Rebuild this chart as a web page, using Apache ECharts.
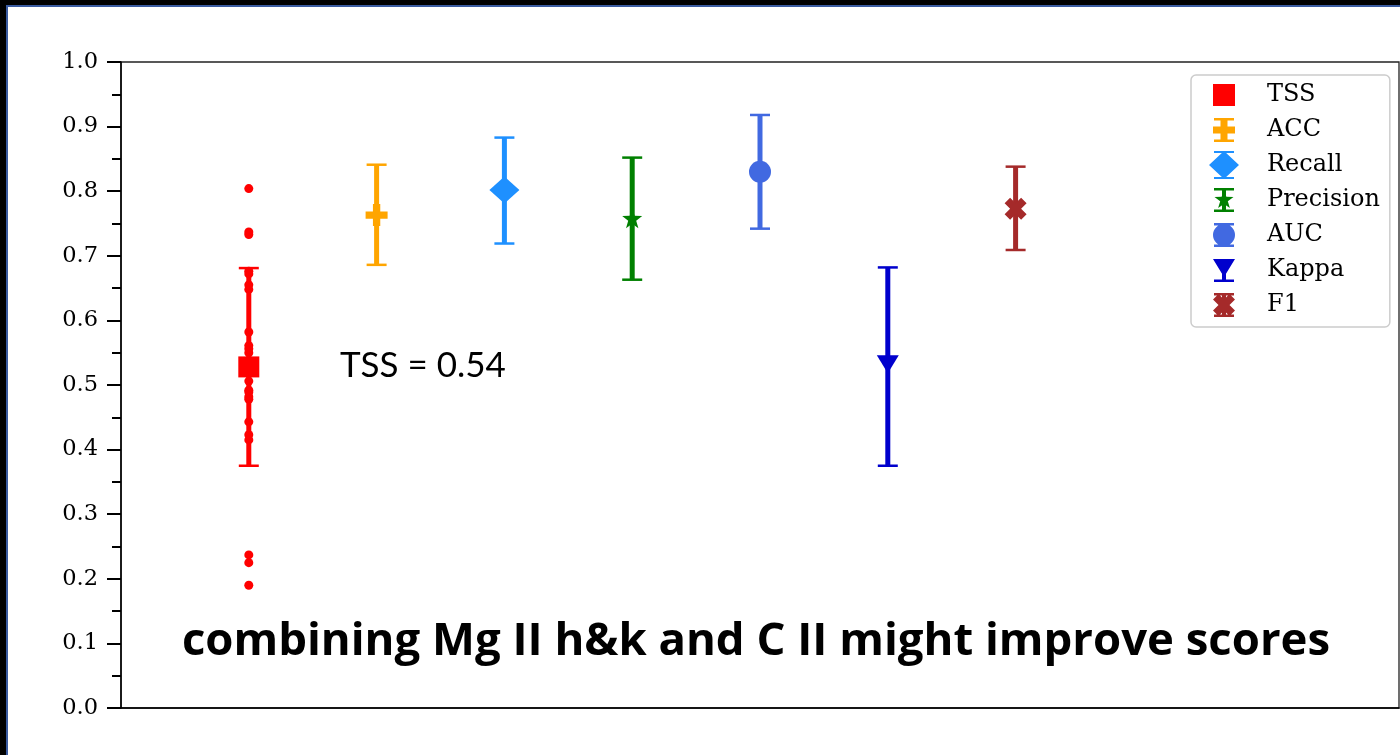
<!DOCTYPE html>
<html>
<head>
<meta charset="utf-8">
<script src="https://cdn.jsdelivr.net/npm/echarts@6/dist/echarts.min.js"></script>
<style>
  html, body { margin: 0; padding: 0; background: #ffffff; }
  #wrap { position: relative; width: 1400px; height: 755px; overflow: hidden; background: #ffffff; }
  #chart { position: absolute; left: 0; top: 0; width: 1400px; height: 755px; }
  .fr { position: absolute; pointer-events: none; }
</style>
</head>
<body>
<div id="wrap">
  <div id="chart"></div>
  <div class="fr" style="left:0;top:0;width:1400px;height:5px;background:#000;"></div>
  <div class="fr" style="left:0;top:0;width:6px;height:755px;background:#000;"></div>
  <div class="fr" style="left:6px;top:5px;width:1394px;height:2px;background:#3a5ba0;"></div>
  <div class="fr" style="left:6px;top:5px;width:2px;height:750px;background:#3a5ba0;"></div>
</div>
<script>
// ---- data ----
const metrics   = ['TSS', 'ACC', 'Recall', 'Precision', 'AUC', 'Kappa', 'F1'];
const positions = [1, 2, 3, 4, 5, 6, 7];
const means     = [0.528, 0.763, 0.802, 0.758, 0.830, 0.532, 0.773];
const lows      = [0.375, 0.686, 0.719, 0.663, 0.742, 0.375, 0.709];
const highs     = [0.681, 0.841, 0.883, 0.852, 0.918, 0.682, 0.838];
const tssRuns   = [0.804, 0.737, 0.733, 0.676, 0.672, 0.655, 0.648, 0.582, 0.561, 0.556,
                   0.550, 0.506, 0.492, 0.489, 0.482, 0.478, 0.443, 0.423, 0.415, 0.237,
                   0.225, 0.190];
const tssText   = 'TSS = 0.54';
const noteText  = 'combining Mg II h&k and C II might improve scores';

// ---- styles ----
const colors = ['#ff0000', '#ffa500', '#1e90ff', '#008000', '#4169e1', '#0000cd', '#a52a2a'];
const STAR = 'M15 4L17.35 10.76L24.51 10.91L18.8 15.24L20.88 22.09L15 18L9.12 22.09L11.2 15.24L5.49 10.91L12.65 10.76Z';
const symbols = [
  'rect',
  'path://M4 0h4v4h4v4H8v4H4V8H0V4h4z',
  'diamond',
  'path://' + STAR,
  'circle',
  'path://M0 0L22 0L11 18Z',
  'path://M2.5 0L5 2.5L7.5 0L10 2.5L7.5 5L10 7.5L7.5 10L5 7.5L2.5 10L0 7.5L2.5 5L0 2.5Z'
];
const symbolSizes = [21, 22, [30, 27], 20, 22, [22, 18], 22];

const ANCH = 'M0 0L0 0ZM30 28L30 28Z';
const BAR = 'M13 3h4v22h-4z';
const CAPS = 'M5 2h20v2.5H5zM5 23.5h20v2.5H5z';
const legendIcons = [
  'path://' + ANCH + 'M4 3h22v22H4z',
  'path://' + ANCH + BAR + CAPS + 'M11.5 3h7v7.5h7.5v7h-7.5v7.5h-7v-7.5H4v-7h7.5z',
  'path://' + ANCH + BAR + 'M5 0h20v2H5zM5 26h20v2H5z' + 'M15 0L30 14L15 28L0 14Z',
  'path://' + ANCH + BAR + CAPS + STAR,
  'path://' + ANCH + BAR + CAPS + 'M4 14A11 11 0 1 1 26 14A11 11 0 1 1 4 14Z',
  'path://' + ANCH + BAR + 'M5 23.5h20v2.5H5z' + 'M4 3L26 3L15 21Z',
  'path://' + ANCH + BAR + CAPS + 'M9.5 3L15 8.5L20.5 3L26 8.5L20.5 14L26 19.5L20.5 25L15 19.5L9.5 25L4 19.5L9.5 14L4 8.5Z'
];

function errorBarRender(params, api) {
  const x = api.value(0);
  const top = api.coord([x, api.value(2)]);
  const bot = api.coord([x, api.value(1)]);
  const c = api.visual('color');
  const half = 10;
  return {
    type: 'group',
    children: [
      { type: 'line', shape: { x1: top[0], y1: top[1], x2: bot[0], y2: bot[1] },
        style: { stroke: c, lineWidth: 5 } },
      { type: 'line', shape: { x1: top[0] - half, y1: top[1], x2: top[0] + half, y2: top[1] },
        style: { stroke: c, lineWidth: 2.5 } },
      { type: 'line', shape: { x1: bot[0] - half, y1: bot[1], x2: bot[0] + half, y2: bot[1] },
        style: { stroke: c, lineWidth: 2.5 } }
    ]
  };
}

const series = [];
metrics.forEach((m, i) => {
  series.push({
    name: m + ' bar', type: 'custom', renderItem: errorBarRender,
    itemStyle: { color: colors[i] }, z: 2, silent: true,
    data: [[positions[i], lows[i], highs[i]]]
  });
});
series.push({
  name: 'TSS runs', type: 'scatter', symbol: 'circle', symbolSize: 9,
  itemStyle: { color: colors[0], opacity: 1 }, z: 3, silent: true,
  data: tssRuns.map(v => [positions[0], v])
});
metrics.forEach((m, i) => {
  series.push({
    name: m, type: 'scatter', symbol: symbols[i], symbolSize: symbolSizes[i],
    itemStyle: { color: colors[i], opacity: 1 }, z: 4, silent: true,
    data: [[positions[i], means[i]]]
  });
});

const chart = echarts.init(document.getElementById('chart'), null, { renderer: 'canvas' });
chart.setOption({
  animation: false,
  backgroundColor: 'transparent',
  grid: { left: 121, right: 1, top: 62, bottom: 47, show: true, borderColor: '#222', borderWidth: 1.3, backgroundColor: 'transparent' },
  xAxis: {
    type: 'value', min: 0, max: 10,
    axisLine: { show: true, lineStyle: { color: '#000', width: 1.5 } },
    axisTick: { show: false }, axisLabel: { show: false }, splitLine: { show: false }
  },
  yAxis: {
    type: 'value', min: 0, max: 1, interval: 0.1,
    axisLine: { show: true, lineStyle: { color: '#000', width: 1.5 } },
    axisTick: { show: true, inside: false, length: 14, lineStyle: { color: '#000', width: 2 } },
    minorTick: { show: true, splitNumber: 2, length: 9, lineStyle: { color: '#000', width: 2 } },
    axisLabel: { margin: 23, color: '#000', fontFamily: 'DejaVu Serif', fontSize: 22.5,
                 formatter: v => v.toFixed(1) },
    splitLine: { show: false }, minorSplitLine: { show: false }
  },
  legend: {
    orient: 'vertical', left: 1191, top: 75,
    padding: [6, 10, 8, 18], itemWidth: 30, itemHeight: 28, itemGap: 7,
    backgroundColor: '#fff', borderColor: '#cccccc', borderWidth: 1.5, borderRadius: 5,
    selectedMode: false,
    textStyle: { fontFamily: 'DejaVu Serif', fontSize: 24, color: '#000', padding: [0, 0, 0, 23] },
    data: metrics.map((m, i) => ({ name: m, icon: legendIcons[i] }))
  },
  graphic: [
    { type: 'text', x: 340, y: 366, silent: true,
      style: { text: tssText, fill: '#000', font: '35px Lato', textAlign: 'left', textVerticalAlign: 'middle' } },
    { type: 'text', x: 756, y: 642, silent: true,
      style: { text: noteText, fill: '#000', font: 'bold 45.5px "Open Sans"', textAlign: 'center', textVerticalAlign: 'middle' } }
  ],
  series: series
});
</script>
</body>
</html>
